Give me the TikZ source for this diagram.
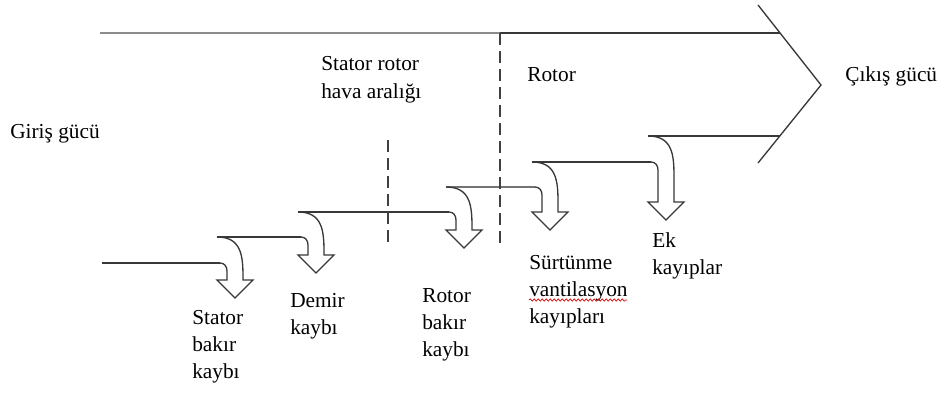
\documentclass[tikz,border=0pt]{standalone}
\usepackage{fontspec}
\setmainfont{Liberation Serif}
\newfontfamily\lblfont{Liberation Serif}
\usetikzlibrary{decorations.pathmorphing}
\newcommand{\lossarrow}[4]{% xa, upper level, lower level, head base
  \draw[arrowline] (#1,#2) .. controls ({#1+24},#2) and ({#1+26},{#2+18}) .. ({#1+26},{min(#4,#2+40)})
    -- ({#1+26},#4)
    -- ({#1+36},#4) -- ({#1+18},{#4+18}) -- (#1,#4) -- ({#1+10},#4)
    -- ({#1+10},{#3+8}) .. controls ({#1+10},{#3+3}) and ({#1+7},#3) .. ({#1+3},#3);}
\begin{document}
\begin{tikzpicture}[x=0.75pt,y=-0.75pt,
  levelline/.style={line width=1.6pt,draw=black!78},
  arrowline/.style={line width=1pt,draw=black!78,line join=miter},
  divider/.style={line width=1.1pt,draw=black!75,dash pattern=on 9pt off 4.5pt},
  lbl/.style={anchor=base west,inner sep=0pt,font=\lblfont\fontsize{16}{20.5}\selectfont}]
\useasboundingbox (0,0) rectangle (944,406);
% top line and output chevron
\draw[levelline,draw=black!45] (100,33) -- (500,33);
\draw[levelline] (500,33) -- (780,33);
\draw[arrowline] (758,5) -- (821,85) -- (758,163);
% level lines
\draw[levelline] (102,263) -- (220,263);
\draw[levelline] (217,237) -- (301,237);
\draw[levelline] (298,212) -- (449,212);
\draw[levelline,draw=black!55] (446,187) -- (535,187);
\draw[levelline] (532,162) -- (651,162);
\draw[levelline] (648,136) -- (780,136);
% loss arrows
\lossarrow{217}{237}{263}{280}
\lossarrow{298}{212}{237}{255}
\lossarrow{446}{187}{212}{230}
\lossarrow{532}{162}{187}{212}
\lossarrow{648}{136}{162}{202}
% dashed dividers
\draw[divider] (388,140) -- (388,245);
\draw[divider] (500,33) -- (500,245);
% labels
\node[lbl] (giris) at (10,138) {Giriş gücü};
\node[lbl] (cikis) at (845,82) {Çıkış gücü};
\node[lbl] (hava) at (321,71) {\vtop{\hbox{Stator rotor}\hbox{hava aralığı}}};
\node[lbl] (rotor) at (527,82) {Rotor};
\node[lbl] (statorb) at (192,324) {\vtop{\hbox{Stator}\hbox{bakır}\hbox{kaybı}}};
\node[lbl] (demir) at (290,307) {\vtop{\hbox{Demir}\hbox{kaybı}}};
\node[lbl] (rotorb) at (422,302) {\vtop{\hbox{Rotor}\hbox{bakır}\hbox{kaybı}}};
\node[lbl] (surt) at (529,269) {\vtop{\hbox{Sürtünme}\hbox{vantilasyon}\hbox{kayıpları}}};
\node[lbl] (ek) at (652,247) {\vtop{\hbox{Ek}\hbox{kayıplar}}};
% spell-check underline
\draw[red!85!black,line width=0.5pt,decorate,decoration={snake,amplitude=0.9pt,segment length=3pt}] (529,300) -- (627,300);
\end{tikzpicture}
\end{document}
